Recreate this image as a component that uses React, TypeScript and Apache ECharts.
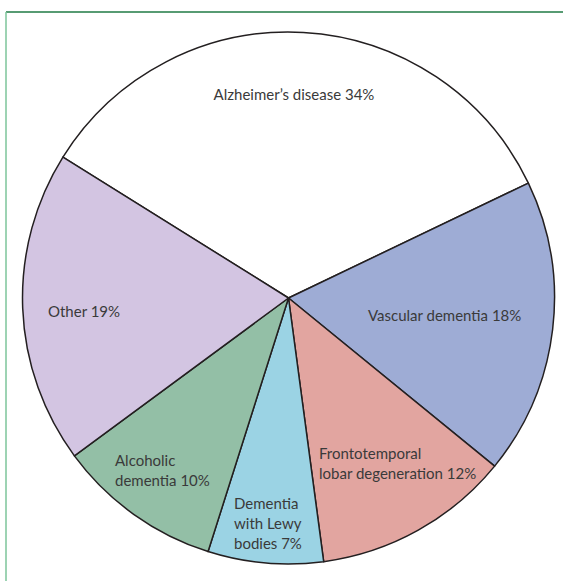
import React, { useEffect, useRef } from "react";
import * as echarts from "echarts";

const categories = [
  "Alzheimer’s disease",
  "Vascular dementia",
  "Frontotemporal lobar degeneration",
  "Dementia with Lewy bodies",
  "Alcoholic dementia",
  "Other",
];
const values = [34, 18, 12, 7, 10, 19];
const labelLines = [
  ["Alzheimer’s disease 34%"],
  ["Vascular dementia 18%"],
  ["Frontotemporal", "lobar degeneration 12%"],
  ["Dementia", "with Lewy", "bodies 7%"],
  ["Alcoholic", "dementia 10%"],
  ["Other 19%"],
];
const colors = ["#ffffff", "#9eacd5", "#e2a5a0", "#9bd3e4", "#93bfa6", "#d3c5e2"];

// label anchor positions (left x / centre x, first line centre y)
const labelPos = [
  { x: 294, y: 94, align: "center" },
  { x: 368, y: 315, align: "left" },
  { x: 319, y: 453, align: "left" },
  { x: 234, y: 503, align: "left" },
  { x: 115, y: 460, align: "left" },
  { x: 48, y: 311, align: "left" },
];

export default function App() {
  const ref = useRef<HTMLDivElement>(null);
  useEffect(() => {
    document.body.style.margin = "0";
    const chart = echarts.init(ref.current!, null, { renderer: "svg" });
    const texts = labelLines.map((lines, i) => ({
      type: "text",
      x: labelPos[i].x,
      y: labelPos[i].y - 10,
      z: 100,
      style: {
        text: lines.join("\n"),
        fill: "#3a3a3a",
        font: '15px Lato, "Noto Sans", sans-serif',
        lineHeight: 20,
        align: labelPos[i].align,
        verticalAlign: "top",
      },
    }));
    chart.setOption({
      animation: false,
      backgroundColor: "#ffffff",
      graphic: [
        {
          type: "line",
          shape: { x1: 6, y1: 12, x2: 563, y2: 12 },
          style: { stroke: "#1f7a45", lineWidth: 1.5 },
        },
        {
          type: "line",
          shape: { x1: 6, y1: 12, x2: 6, y2: 581 },
          style: { stroke: "#7cc49a", lineWidth: 1.5 },
        },
        ...texts,
      ],
      series: [
        {
          type: "pie",
          center: [288.5, 298],
          radius: [0, 266],
          startAngle: 148,
          clockwise: true,
          label: { show: false },
          labelLine: { show: false },
          emphasis: { disabled: true },
          itemStyle: { borderColor: "#231f20", borderWidth: 1.5 },
          data: categories.map((name, i) => ({
            name,
            value: values[i],
            itemStyle: { color: colors[i] },
          })),
        },
      ],
    });
    return () => chart.dispose();
  }, []);
  return <div ref={ref} style={{ width: 563, height: 581 }} />;
}
